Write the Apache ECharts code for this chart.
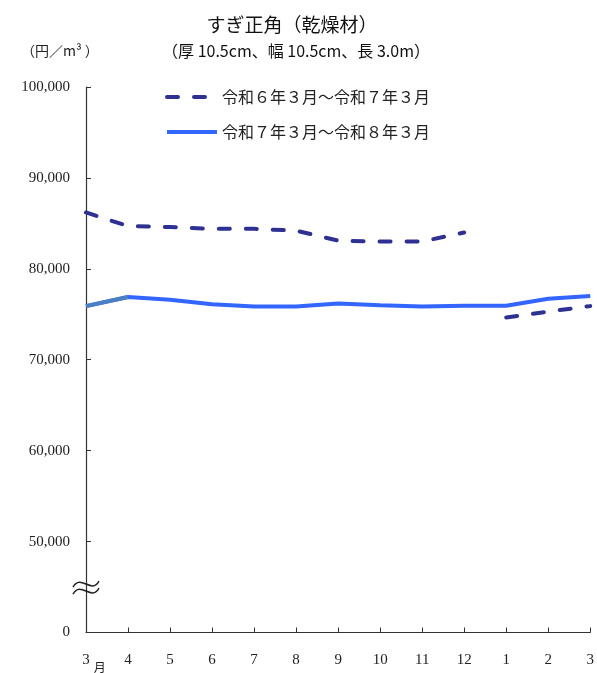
<!DOCTYPE html>
<html><head><meta charset="utf-8">
<script src="https://cdn.jsdelivr.net/npm/echarts@6/dist/echarts.min.js"></script>
<style>html,body{margin:0;padding:0;background:#fff}#c{width:597px;height:673px}</style>
</head><body><div id="c"></div>
<script>
const categories = ['3','4','5','6','7','8','9','10','11','12','1','2','3'];
const seriesNames = ['令和６年３月～令和７年３月','令和７年３月～令和８年３月'];
const prevYearA = [86200, 84700, 84600, 84400, 84400, 84200, 83100, 83000, 83000, 84000, null, null, null];
const prevYearB = [null, null, null, null, null, null, null, null, null, null, 74650, 75300, 75900];
const thisYear  = [75900, 76900, 76600, 76100, 75850, 75850, 76200, 76000, 75850, 75950, 75950, 76700, 77000];
const yTickValues = [40000, 50000, 60000, 70000, 80000, 90000, 100000];
const yTickLabels = ['0', '50,000', '60,000', '70,000', '80,000', '90,000', '100,000'];
// first segment (March→April) of the current year drawn in a lighter steel blue, as in the source
const thisYearFirstSeg = thisYear.map(function (v, i) { return i < 2 ? v : null; });

const serif = '"Liberation Serif","DejaVu Serif",serif';
const cjk = '"Noto Sans CJK JP","Noto Sans",sans-serif';
const dashColor = '#2E3192';
const solidColor = '#3366FF';
const dashStyle = {color: dashColor, width: 4, type: [11, 16], cap: 'round'};
const hiddenSym = {opacity: 0, color: 'transparent', borderWidth: 0};

const chart = echarts.init(document.getElementById('c'));
chart.setOption({
  animation: false,
  title: [
    {text: 'すぎ正角（乾燥材）', left: 287, top: 10, textAlign: 'center',
     textStyle: {fontFamily: cjk, fontSize: 19, fontWeight: 'normal', color: '#111'}},
    {text: '（厚 10.5cm、幅 10.5cm、長 3.0m）', left: 291, top: 38, textAlign: 'center',
     textStyle: {fontFamily: cjk, fontSize: 16, fontWeight: 'normal', color: '#111'}},
    {text: '（円／m³ ）', left: 16, top: 39,
     textStyle: {fontFamily: cjk, fontSize: 14, fontWeight: 'normal', color: '#222'}}
  ],
  legend: {
    orient: 'vertical', left: 165, top: 89, padding: 0, itemWidth: 50, itemHeight: 14, itemGap: 19, itemTextGap: 6,
    textStyle: {fontFamily: cjk, fontSize: 16, color: '#222'},
    itemStyle: hiddenSym,
    data: [
      {name: seriesNames[0], lineStyle: dashStyle, itemStyle: hiddenSym},
      {name: seriesNames[1], lineStyle: {color: solidColor, width: 4, type: 'solid'}, itemStyle: hiddenSym}
    ]
  },
  grid: {left: 86, right: 5, top: 87, bottom: 39},
  xAxis: {
    type: 'category', data: categories, boundaryGap: false,
    axisLine: {lineStyle: {color: '#333', width: 1.2}},
    axisTick: {inside: true, length: 5, lineStyle: {color: '#333'}},
    axisLabel: {
      margin: 20, fontFamily: serif, fontSize: 15, color: '#222', interval: 0,
      formatter: function (v, i) { return i === 0 ? '{p|}{a|' + v + '}{b|月}' : v; },
      rich: {
        p: {width: 16},
        a: {fontFamily: serif, fontSize: 15, color: '#222', padding: [0, 0, 7, 0]},
        b: {fontFamily: cjk, fontSize: 12, color: '#222', padding: [7, 0, 0, 4]}
      }
    },
    splitLine: {show: false}
  },
  yAxis: {
    type: 'value', min: 40000, max: 100000, interval: 10000,
    axisLine: {show: true, lineStyle: {color: '#333', width: 1.2}},
    axisTick: {show: true, inside: true, length: 5, lineStyle: {color: '#333'}},
    axisLabel: {
      margin: 16, fontFamily: serif, fontSize: 15, color: '#222',
      formatter: function (v) { const k = yTickValues.indexOf(v); return k >= 0 ? yTickLabels[k] : ''; }
    },
    splitLine: {show: false}
  },
  series: [
    {name: seriesNames[0], type: 'line', data: prevYearA, symbol: 'none', showSymbol: false, connectNulls: false,
     lineStyle: dashStyle, itemStyle: {color: dashColor}, z: 3},
    {name: seriesNames[0], type: 'line', data: prevYearB, symbol: 'none', showSymbol: false, connectNulls: false,
     lineStyle: dashStyle, itemStyle: {color: dashColor}, z: 3},
    {name: seriesNames[1], type: 'line', data: thisYear, symbol: 'none', showSymbol: false,
     lineStyle: {color: solidColor, width: 4}, itemStyle: {color: solidColor}, z: 4},
    {name: seriesNames[1], type: 'line', data: thisYearFirstSeg, symbol: 'none', showSymbol: false, connectNulls: false,
     lineStyle: {color: '#4A7FC1', width: 4}, itemStyle: {color: solidColor}, z: 5}
  ]
});

const bp = chart.convertToPixel({gridIndex: 0}, [0, 45000]);
function waveAt(dy) {
  return {
    type: 'bezierCurve', x: bp[0], y: bp[1] + dy, z: 100,
    shape: {x1: -13, y1: 3, x2: 13, y2: -3, cpx1: -5, cpy1: -11, cpx2: 5, cpy2: 11},
    style: {fill: null, stroke: '#222', lineWidth: 1.5}
  };
}
chart.setOption({graphic: [waveAt(-3), waveAt(4)]});
</script></body></html>
